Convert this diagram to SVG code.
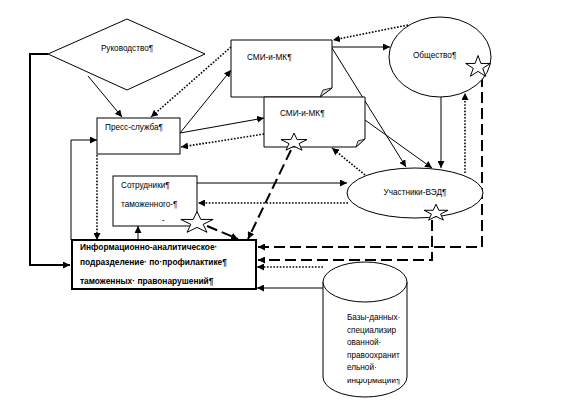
<svg xmlns="http://www.w3.org/2000/svg" width="565" height="403" viewBox="0 0 565 403">
<style>
.shape{fill:#fff;stroke:#000;stroke-width:1}
.t{font-family:"Liberation Sans",Arial,sans-serif;font-size:8.2px;fill:#000}
.tb{font-family:"Liberation Sans",Arial,sans-serif;font-size:8.4px;font-weight:bold;fill:#000}
.solid{fill:none;stroke:#000;stroke-width:1}
.dot{fill:none;stroke:#000;stroke-width:1.6;stroke-dasharray:1.6 1.6}
.dash{fill:none;stroke:#000;stroke-width:2;stroke-dasharray:11 5}
.thick{fill:none;stroke:#000;stroke-width:2}
</style>
<defs>
<marker id="ah" viewBox="0 0 10 10" refX="10" refY="5" markerWidth="7" markerHeight="7" markerUnits="userSpaceOnUse" orient="auto">
<path d="M0,0 L10,5 L0,10 Z" fill="#000"/>
</marker>
<polygon id="star" points="0,-1 0.2245,-0.309 0.951,-0.309 0.363,0.118 0.588,0.809 0,0.382 -0.588,0.809 -0.363,0.118 -0.951,-0.309 -0.2245,-0.309" fill="#fff" stroke="#000" stroke-width="1" vector-effect="non-scaling-stroke"/>
<clipPath id="cylclip" clipPathUnits="userSpaceOnUse"><rect x="323" y="379" width="84" height="8"/></clipPath>
</defs>
<rect width="565" height="403" fill="#fff"/>

<g id="connectors">
<polyline class="thick" points="48,54 30,54 30,265 70,265" marker-end="url(#ah)"/>
<line class="solid" x1="88" y1="76" x2="122" y2="117" marker-end="url(#ah)"/>
<line class="dot" x1="231" y1="47" x2="151" y2="117" marker-end="url(#ah)"/>
<line class="solid" x1="180" y1="133" x2="231" y2="70" marker-end="url(#ah)"/>
<line class="solid" x1="180" y1="133" x2="264" y2="118" marker-end="url(#ah)"/>
<line class="dot" x1="264" y1="134" x2="181" y2="147" marker-end="url(#ah)"/>
<line class="dot" x1="408" y1="25" x2="333" y2="40" marker-end="url(#ah)"/>
<line class="solid" x1="332" y1="47" x2="390" y2="47" marker-end="url(#ah)"/>
<line class="solid" x1="332" y1="48" x2="406" y2="167" marker-end="url(#ah)"/>
<line class="solid" x1="365" y1="120" x2="432" y2="168" marker-end="url(#ah)"/>
<line class="solid" x1="441" y1="97" x2="441" y2="168" marker-end="url(#ah)"/>
<line class="dot" x1="465" y1="173" x2="465" y2="93" marker-end="url(#ah)"/>
<line class="dot" x1="365" y1="175" x2="332" y2="148" marker-end="url(#ah)"/>
<line class="solid" x1="197" y1="183" x2="347" y2="183" marker-end="url(#ah)"/>
<line class="dot" x1="348" y1="203" x2="198" y2="203" marker-end="url(#ah)"/>
<line class="dot" x1="97" y1="155" x2="97" y2="240" marker-end="url(#ah)"/>
<line class="solid" x1="138" y1="240" x2="138" y2="226" marker-end="url(#ah)"/>
<polyline class="solid" points="71,240 71,140 97,140" marker-end="url(#ah)"/>
<line class="dash" x1="207" y1="226" x2="238" y2="239" marker-end="url(#ah)"/>
<line class="dash" x1="291" y1="150" x2="248" y2="239" marker-end="url(#ah)"/>
<polyline class="dash" points="482,76 482,247 258,247" marker-end="url(#ah)"/>
<polyline class="dash" points="432,220 432,260 258,260" marker-end="url(#ah)"/>
<line class="dot" x1="323" y1="267" x2="257" y2="267" marker-end="url(#ah)"/>
<line class="solid" x1="323" y1="288" x2="257" y2="288" marker-end="url(#ah)"/>
</g>

<g id="node-rukovodstvo">
<polygon class="shape" points="48,54 127,19 205,54 127,90"/>
<text class="t" x="127" y="51" text-anchor="middle">Руководство¶</text>
</g>

<g id="node-press">
<rect class="shape" x="97" y="118" width="83" height="36"/>
<text class="t" x="105" y="130">Пресс-служба¶</text>
</g>

<g id="node-smi1">
<path class="shape" d="M231,40 H332 V88 L320,97 H231 Z"/>
<path d="M332,88 L323,90 L320,97 Z" fill="#ddd" stroke="#000" stroke-width="0.8"/>
<text class="t" x="247" y="60">СМИ-и-МК¶</text>
</g>

<g id="node-smi2">
<path class="shape" d="M264,97 H365 V139 L356,147 H264 Z"/>
<path d="M365,139 L358,141 L356,147 Z" fill="#ddd" stroke="#000" stroke-width="0.8"/>
<text class="t" x="280" y="116">СМИ-и-МК¶</text>
<use href="#star" transform="translate(294,142.5) scale(13.7,9.5)"/>
</g>

<g id="node-society">
<ellipse class="shape" cx="440" cy="57" rx="51" ry="40"/>
<text class="t" x="413" y="58">Общество¶</text>
<use href="#star" transform="translate(478,67) scale(13,11.5)"/>
</g>

<g id="node-participants">
<ellipse class="shape" cx="415" cy="193" rx="68" ry="25"/>
<text class="t" x="415" y="195" text-anchor="middle">Участники-ВЭД¶</text>
<use href="#star" transform="translate(436,213) scale(12.6,8.8)"/>
</g>

<g id="node-employees">
<rect class="shape" x="113" y="176" width="84" height="50"/>
<text class="t" x="121" y="188">Сотрудники¶</text>
<text class="t" x="121" y="207">таможенного-¶</text>
<text class="t" x="162" y="223">-</text>
<use href="#star" transform="translate(197,223) scale(17,11.5)"/>
</g>

<g id="node-info">
<rect x="72" y="240" width="184" height="49" fill="#fff" stroke="#000" stroke-width="2"/>
<text class="tb" x="80" y="250">Информационно-аналитическое·</text>
<text class="tb" x="80" y="265">подразделение· по·профилактике¶</text>
<text class="tb" x="80" y="284">таможенных· правонарушений¶</text>
</g>

<g id="node-database">
<path class="shape" d="M323,282 V377 A42,20 0 0 0 407,377 V282"/>
<ellipse class="shape" cx="365" cy="282" rx="42" ry="20"/>
<text class="t" x="347" y="320">Базы-данных·</text>
<text class="t" x="347" y="333">специализир</text>
<text class="t" x="347" y="345">ованной·</text>
<text class="t" x="347" y="358">правоохранит</text>
<text class="t" x="347" y="370">ельной·</text>
<g clip-path="url(#cylclip)"><text class="t" x="347" y="383">информации¶</text></g>
</g>
</svg>
